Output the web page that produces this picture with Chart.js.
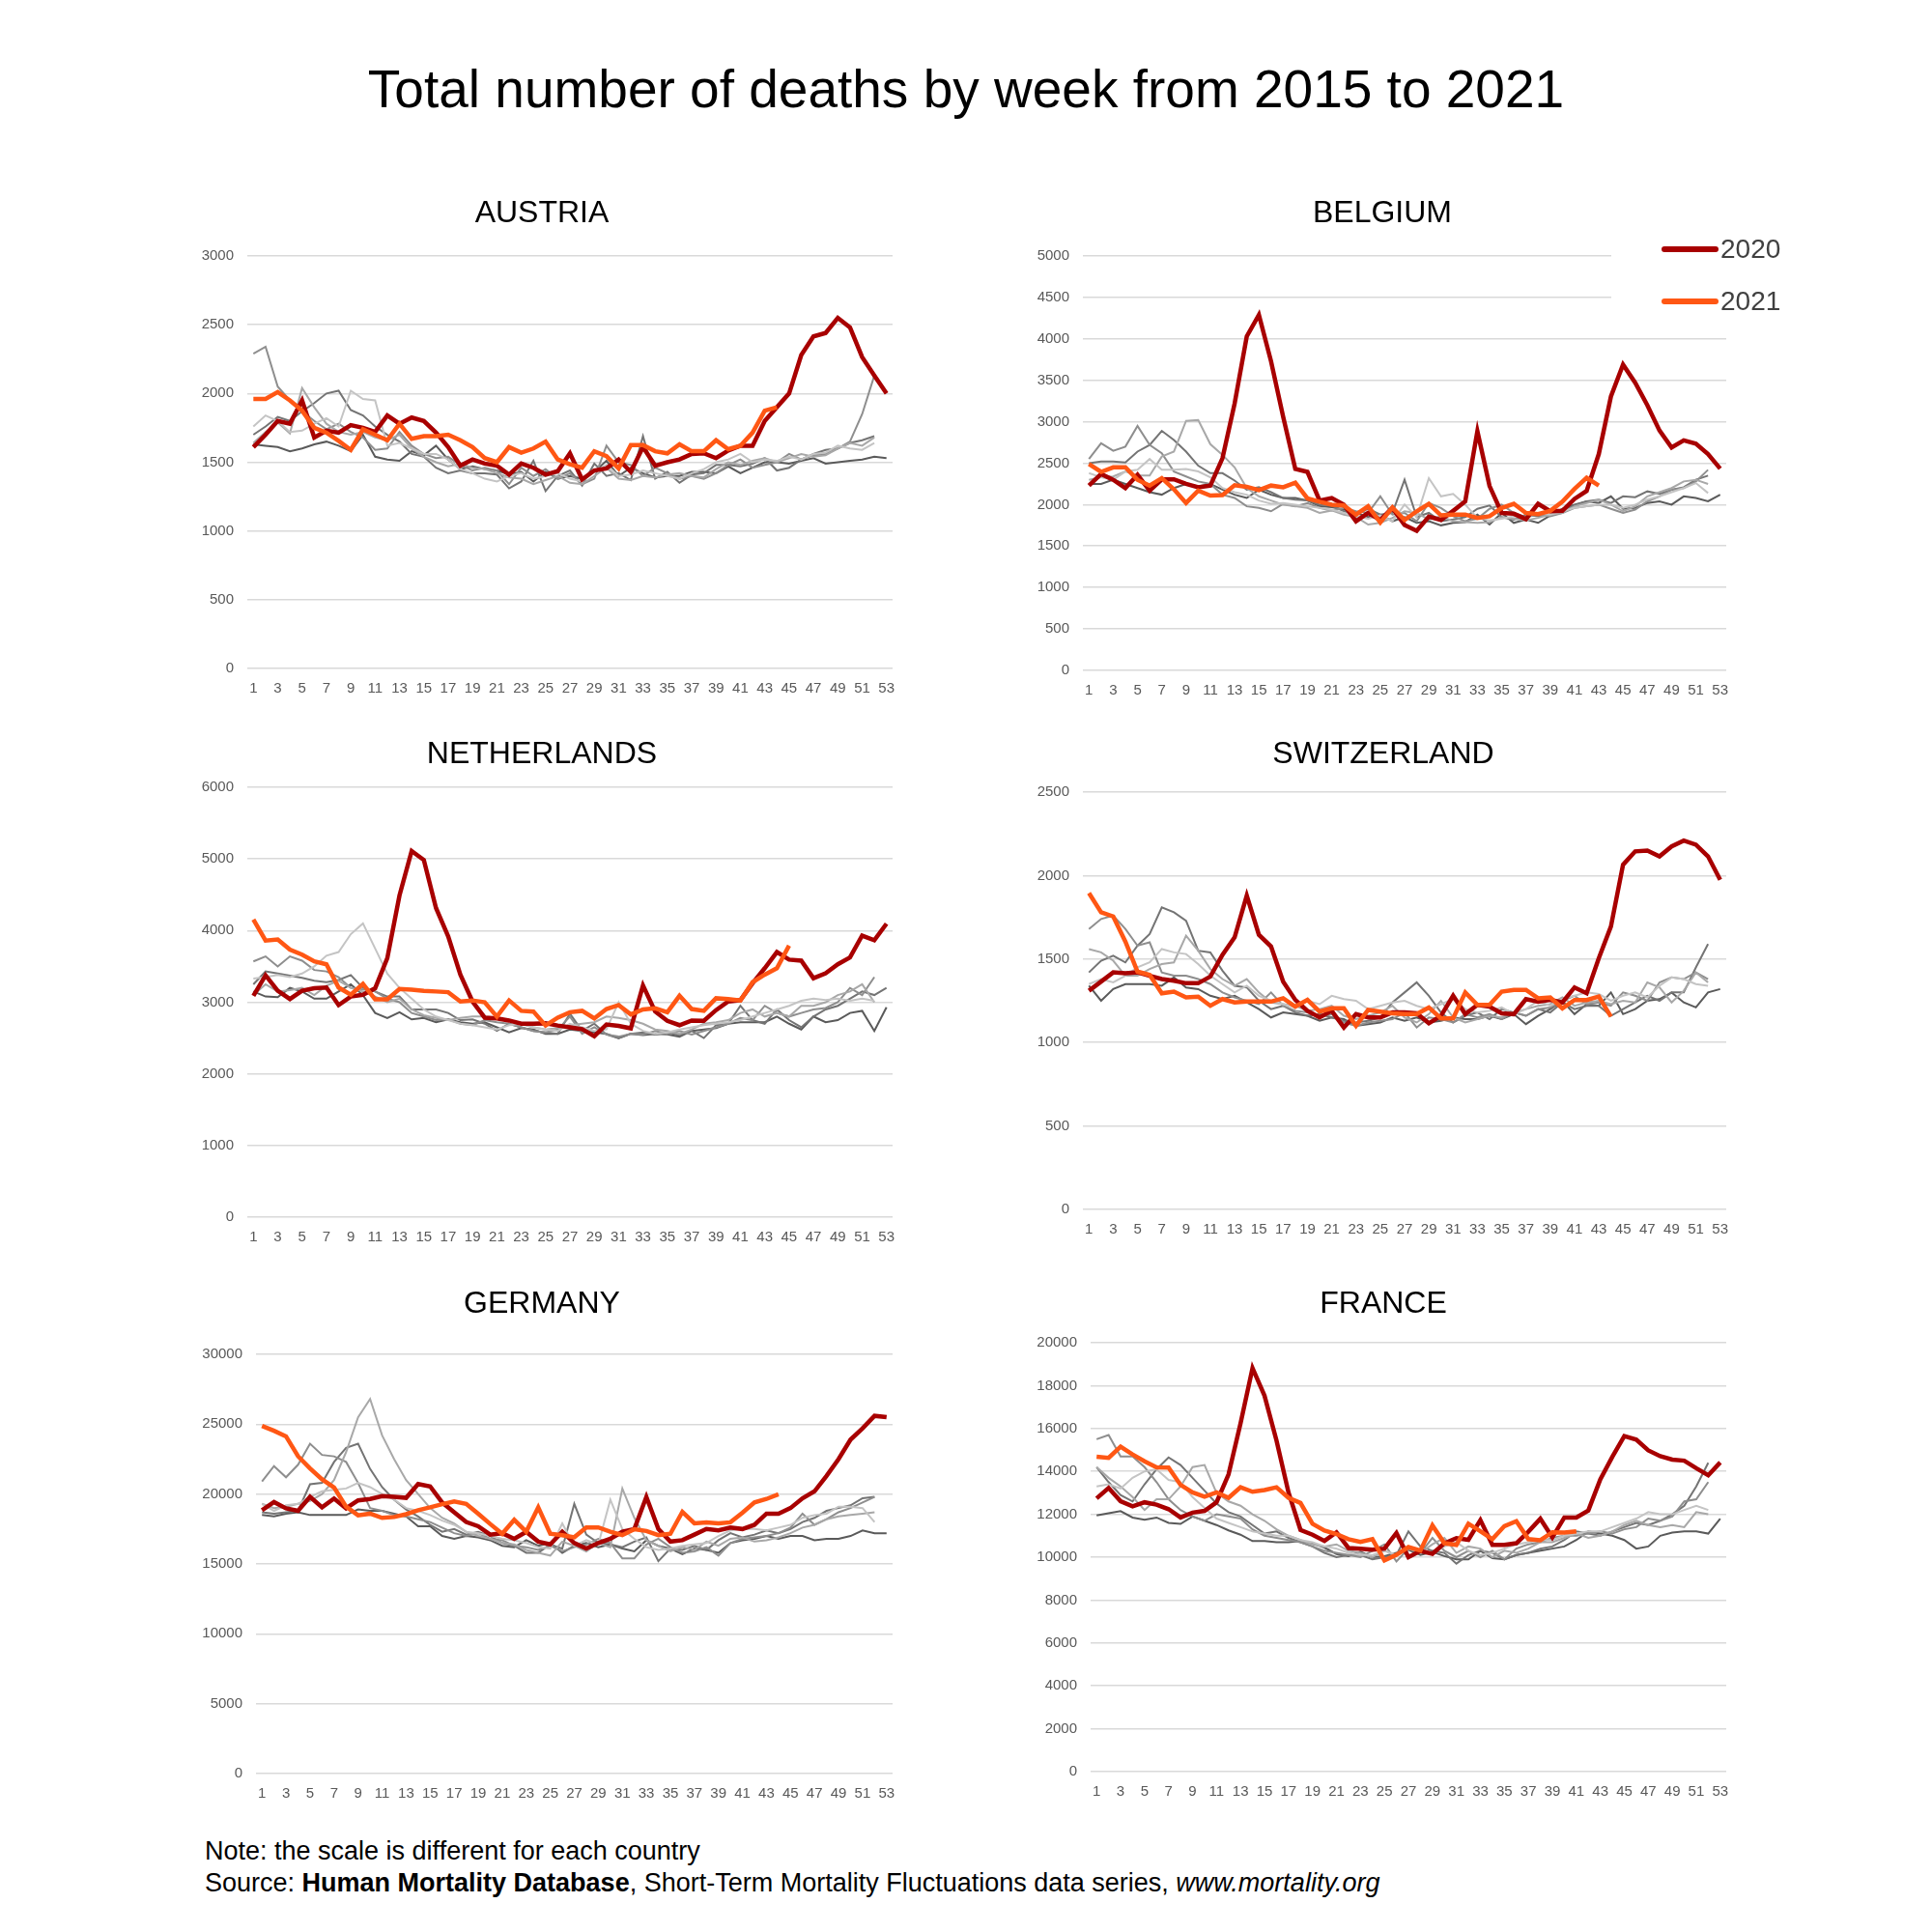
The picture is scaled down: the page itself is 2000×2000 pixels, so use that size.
<!DOCTYPE html>
<html>
<head>
<meta charset="utf-8">
<script src="https://cdn.jsdelivr.net/npm/chart.js@4.4.3/dist/chart.umd.min.js"></script>
<style>
  html,body{margin:0;padding:0;background:#fff;}
  #page{position:relative;width:2000px;height:2000px;font-family:"Liberation Sans",Arial,sans-serif;color:#000;}
  #title{position:absolute;left:0;width:2000px;top:60px;line-height:64px;text-align:center;font-size:55px;}
  #note{position:absolute;left:212px;top:1900px;font-size:27px;line-height:33px;}
  canvas{position:absolute;}
</style>
</head>
<body>
<div id="page">
  <div id="title">Total number of deaths by week from 2015 to 2021</div>
  <div id="note">Note: the scale is different for each country<br>Source: <b>Human Mortality Database</b>, Short-Term Mortality Fluctuations data series, <i>www.mortality.org</i></div>
</div>
<script>
// ---- data: weekly deaths ----
const weeks = ['1','2','3','4','5','6','7','8','9','10','11','12','13','14','15','16','17','18','19','20',
  '21','22','23','24','25','26','27','28','29','30','31','32','33','34','35','36','37','38','39','40',
  '41','42','43','44','45','46','47','48','49','50','51','52','53'];
const years = ['2015','2016','2017','2018','2019','2020','2021'];

// Austria
const at2015 = [1760,1840,1800,1720,1730,1780,1820,1760,2020,1960,1950,1620,1640,1600,1560,1560,1520,1450,1420,1380,1360,1400,1420,1380,1400,1420,1380,1360,1430,1480,1400,1410,1440,1420,1400,1380,1420,1450,1500,1520,1560,1500,1520,1510,1540,1520,1560,1570,1620,1600,1590,1640];
const at2016 = [1640,1720,1790,1710,2040,1900,1780,1720,1700,1720,1680,1660,1700,1600,1540,1500,1470,1490,1460,1450,1420,1390,1380,1340,1370,1400,1350,1340,1400,1460,1380,1370,1400,1390,1410,1420,1400,1390,1450,1500,1480,1510,1530,1500,1530,1560,1540,1550,1600,1640,1620,1680];
const at2017 = [2290,2340,2050,1950,1870,1800,1740,1780,1720,1680,1590,1600,1720,1620,1560,1530,1540,1480,1440,1460,1440,1340,1460,1400,1450,1380,1420,1340,1380,1620,1500,1480,1400,1460,1420,1380,1400,1380,1420,1480,1520,1460,1480,1500,1560,1520,1550,1560,1600,1650,1850,2130];
const at2018 = [1700,1760,1830,1800,1870,1930,2000,2020,1880,1840,1760,1700,1650,1560,1540,1460,1420,1440,1420,1420,1410,1310,1360,1510,1290,1400,1440,1330,1490,1400,1420,1370,1690,1380,1430,1350,1410,1420,1480,1480,1470,1490,1530,1440,1460,1520,1560,1590,1600,1640,1660,1690];
const at2019 = [1630,1620,1610,1580,1600,1630,1650,1620,1580,1700,1540,1520,1510,1580,1550,1620,1520,1450,1470,1450,1440,1410,1430,1360,1430,1380,1400,1380,1430,1510,1400,1460,1420,1390,1400,1400,1430,1430,1420,1470,1420,1460,1500,1500,1490,1510,1530,1490,1500,1510,1520,1540,1530];
const at2020 = [1610,1700,1800,1780,1950,1680,1730,1715,1770,1750,1720,1840,1780,1825,1800,1715,1610,1475,1520,1490,1475,1410,1490,1460,1410,1435,1565,1375,1440,1455,1520,1430,1610,1475,1500,1520,1560,1565,1530,1585,1620,1620,1800,1900,2000,2280,2415,2440,2550,2480,2265,2130,2000];
const at2021 = [1960,1960,2010,1950,1875,1750,1715,1655,1590,1740,1700,1660,1780,1670,1690,1690,1700,1660,1610,1530,1500,1610,1570,1600,1650,1520,1485,1460,1580,1545,1455,1625,1625,1580,1565,1630,1580,1580,1660,1595,1620,1715,1875,1900];

// Belgium
const be2015 = [2380,2330,2300,2400,2420,2550,2420,2420,2430,2400,2330,2200,2150,2120,2050,2010,2020,2000,1980,1960,1940,1900,1860,1830,1870,1800,2000,1850,2320,2100,2130,2000,1840,1810,1830,1860,1850,1900,1880,1920,1960,1980,2000,2000,1960,2000,2060,2100,2150,2200,2260,2140];
const be2016 = [2300,2330,2340,2400,2350,2350,2580,2640,3010,3020,2730,2600,2450,2200,2100,2050,2000,1980,1960,1900,1930,1880,1850,1760,1780,1840,1920,1900,1820,1860,1800,1790,1780,1790,1850,1830,1810,1840,1880,1900,1980,2020,2060,2000,1920,1980,2100,2150,2200,2280,2300,2250];
const be2017 = [2550,2740,2650,2700,2950,2720,2620,2400,2340,2280,2250,2120,2080,1980,1960,1920,2010,1980,2020,1960,1930,1960,1920,1900,2100,1880,1900,1800,2020,1960,1860,1800,1830,1950,2000,1900,1850,1880,1860,1900,1960,1980,2000,1950,1900,1940,2040,2100,2180,2200,2280,2420];
const be2018 = [2500,2520,2520,2510,2640,2720,2890,2780,2640,2470,2380,2380,2290,2180,2210,2150,2080,2060,2050,2000,1990,1920,1880,1950,1880,1900,2300,1850,1900,1800,1820,1850,1950,1990,1850,1820,1880,1860,1880,1920,1990,2040,2060,2020,2100,2090,2160,2130,2180,2210,2300,2350];
const be2019 = [2250,2250,2300,2250,2200,2150,2120,2200,2250,2220,2250,2180,2120,2080,2180,2120,2080,2080,2050,1980,1970,1940,1900,1850,1880,1800,1850,1780,1800,1750,1780,1790,1880,1760,1900,1780,1820,1780,1870,1950,2000,2040,2020,2100,1950,1960,2020,2040,2000,2100,2080,2040,2120];
const be2020 = [2230,2370,2300,2200,2360,2170,2305,2305,2250,2210,2230,2560,3220,4030,4290,3730,3060,2430,2395,2050,2080,2000,1800,1900,1815,1960,1755,1685,1855,1815,1925,2040,2885,2225,1900,1890,1825,2010,1920,1925,2070,2165,2610,3305,3690,3470,3200,2895,2690,2775,2735,2610,2435];
const be2021 = [2490,2395,2450,2450,2300,2230,2320,2185,2020,2170,2110,2115,2235,2215,2175,2230,2210,2265,2075,2035,2000,1990,1880,1980,1785,1965,1815,1920,2010,1870,1880,1880,1840,1860,1960,2010,1900,1885,1925,2035,2190,2325,2230];

// Netherlands
const nl2015 = [3330,3350,3380,3350,3400,3500,3650,3700,3950,4100,3750,3400,3200,3050,2900,2800,2750,2700,2680,2650,2620,2680,2700,2650,2620,2600,2700,2650,2600,2620,3000,2700,2600,2560,2580,2620,2650,2680,2700,2720,2750,2800,2850,2900,2950,3020,3050,3030,3050,3020,3050,3020];
const nl2016 = [3100,3250,3150,3170,3200,3100,3230,3300,3200,3150,3080,3000,3050,2900,2820,2780,2750,2780,2800,2800,2780,2750,2700,2650,2620,2640,2680,2700,2720,2800,2780,2750,2700,2620,2600,2560,2620,2700,2720,2750,2850,2900,2800,2850,2800,2950,2950,3000,3100,3150,3250,3000];
const nl2017 = [3570,3640,3500,3640,3580,3450,3430,3350,3200,3180,3150,3050,3000,2850,2800,2750,2760,2700,2680,2750,2720,2700,2650,2600,2580,2620,2800,2560,2650,2550,2520,2560,2550,2600,2560,2600,2550,2600,2650,2700,2780,2750,2950,2850,2800,2850,2900,2920,3000,3200,3100,3350];
const nl2018 = [3250,3430,3400,3370,3340,3300,3280,3310,3380,3200,3150,3080,3080,2900,2900,2900,2850,2750,2760,2700,2600,2700,2650,2600,2580,2560,2840,2600,2700,2550,2500,2560,2580,2550,2580,2540,2600,2500,2680,2700,2950,2750,2700,2900,2750,2650,2800,2900,2950,3050,3150,3100,3200];
const nl2019 = [3150,3080,3070,3200,3150,3050,3050,3150,3250,3100,2850,2780,2860,2760,2780,2720,2760,2720,2700,2720,2650,2580,2640,2620,2560,2560,2620,2600,2580,2560,2500,2560,2540,2560,2550,2520,2600,2620,2640,2700,2720,2720,2720,2800,2700,2620,2800,2720,2750,2850,2880,2600,2930];
const nl2020 = [3090,3375,3160,3045,3160,3195,3205,2960,3080,3105,3195,3615,4490,5110,4985,4315,3920,3385,3010,2785,2775,2745,2700,2700,2705,2675,2650,2625,2525,2690,2670,2635,3235,2870,2740,2680,2745,2740,2890,3010,3030,3265,3475,3700,3595,3580,3335,3405,3530,3625,3930,3865,4095];
const nl2021 = [4155,3860,3875,3735,3665,3570,3530,3205,3105,3255,3040,3040,3185,3175,3160,3150,3140,3010,3025,3000,2800,3025,2880,2870,2675,2785,2860,2880,2775,2905,2960,2830,2900,2915,2860,3090,2905,2880,3055,3045,3025,3280,3385,3475,3790];

// Switzerland
const ch2015 = [1350,1380,1360,1400,1450,1480,1560,1540,1530,1470,1400,1350,1300,1340,1280,1250,1230,1210,1250,1230,1280,1260,1250,1200,1220,1240,1250,1220,1200,1230,1260,1200,1180,1190,1210,1170,1200,1250,1220,1260,1280,1300,1290,1250,1280,1300,1270,1340,1390,1380,1350,1340];
const ch2016 = [1560,1540,1490,1400,1400,1440,1470,1480,1640,1550,1440,1380,1340,1380,1300,1240,1230,1220,1190,1200,1220,1160,1140,1160,1180,1220,1150,1120,1170,1250,1150,1120,1140,1160,1150,1180,1200,1220,1230,1270,1220,1240,1250,1230,1250,1240,1360,1330,1240,1310,1420,1360];
const ch2017 = [1680,1740,1760,1680,1580,1600,1420,1400,1400,1380,1350,1300,1270,1250,1230,1300,1220,1190,1180,1150,1170,1120,1100,1120,1130,1140,1180,1090,1150,1140,1120,1170,1150,1170,1140,1180,1160,1200,1210,1250,1280,1230,1240,1220,1300,1280,1250,1360,1390,1380,1420,1380];
const ch2018 = [1420,1490,1520,1480,1580,1650,1810,1780,1730,1550,1540,1430,1340,1330,1250,1200,1220,1180,1160,1170,1150,1130,1120,1130,1150,1240,1300,1360,1280,1180,1120,1160,1180,1140,1200,1180,1160,1200,1180,1240,1200,1220,1220,1160,1200,1240,1280,1250,1300,1300,1450,1590];
const ch2019 = [1340,1250,1320,1350,1350,1350,1340,1390,1330,1320,1280,1260,1280,1240,1200,1150,1180,1170,1160,1130,1150,1140,1100,1110,1120,1150,1130,1150,1120,1130,1150,1140,1140,1160,1140,1170,1110,1160,1200,1250,1170,1230,1220,1300,1170,1200,1250,1260,1300,1240,1210,1300,1320];
const ch2020 = [1310,1365,1420,1415,1420,1400,1380,1370,1355,1355,1395,1525,1630,1880,1645,1575,1365,1255,1190,1150,1190,1090,1170,1150,1150,1180,1180,1175,1115,1160,1280,1170,1225,1215,1175,1170,1260,1245,1255,1240,1330,1295,1505,1695,2065,2145,2150,2115,2175,2210,2185,2115,1975];
const ch2021 = [1895,1780,1755,1605,1425,1405,1295,1305,1270,1275,1220,1260,1240,1245,1245,1245,1265,1215,1255,1185,1205,1205,1100,1195,1185,1175,1170,1170,1210,1145,1145,1300,1225,1225,1305,1315,1315,1265,1270,1205,1255,1255,1275,1155];

// Germany
const de2015 = [19300,18800,19200,19300,19800,20200,20300,20400,20800,20500,20000,19600,19000,18800,18500,18100,17800,17300,17200,17000,16800,16700,16500,16200,16100,17900,16300,16700,16400,19600,17500,16800,16200,16000,16100,16300,16400,16500,17000,17400,17500,17500,17400,17600,17800,18300,18500,18600,19100,19100,19000,18000];
const de2016 = [19300,19000,19100,19300,19500,20000,21000,23000,25500,26800,24200,22500,21000,20000,19000,18300,17900,17300,17000,16800,16500,16400,16000,15800,15600,16600,16300,15900,16500,16200,20400,18300,16700,16300,15900,16200,16000,16600,16300,16800,16900,16600,16700,16900,17200,17600,17800,18200,18400,18500,18600,18700];
const de2017 = [20900,22000,21200,22100,23600,22800,22700,22300,20800,19000,18800,18500,18400,18200,18000,17600,17200,17000,17200,16800,16700,16300,16200,16000,16300,15900,16200,16400,16800,16500,15400,15400,16400,16800,16200,15800,15900,16200,15600,16500,16800,16900,17000,17200,17600,18600,17800,18200,18700,19000,19400,19800];
const de2018 = [18700,18600,18700,18800,20700,20800,22300,23300,23600,21800,20500,19600,18900,18400,17800,17300,17500,17100,17300,17000,16500,16300,15800,15800,16400,16100,19300,17100,16500,16400,16200,16600,16900,15200,16100,16000,16300,16000,16700,17200,16900,17100,17400,17200,17500,18000,18300,18800,19000,19200,19700,19800];
const de2019 = [18500,18400,18600,18700,18500,18500,18500,18500,18900,18800,18800,18600,18400,17700,17700,17000,16800,17000,16900,16700,16300,16200,16700,16300,16500,15800,16300,16500,16200,16400,16100,15900,16700,16300,16100,15700,16100,16000,15800,16500,16700,16800,17000,16800,17000,17000,16700,16800,16800,17000,17400,17200,17200];
const de2020 = [18850,19430,18980,18800,19800,19050,19680,18980,19550,19650,19850,19800,19730,20720,20550,19400,18700,18000,17700,17100,17200,16800,17300,16600,16400,17300,16500,16100,16500,16800,17300,17500,19800,17500,16600,16700,17100,17500,17400,17600,17500,17800,18600,18600,19000,19700,20200,21300,22500,23900,24700,25600,25500];
const de2021 = [24880,24530,24130,22710,21840,21050,20470,19100,18480,18600,18300,18360,18560,18850,19050,19280,19480,19300,18600,17860,17160,18160,17310,19050,17160,17060,16910,17610,17610,17310,17060,17490,17360,17060,17160,18730,17910,17980,17910,17980,18660,19400,19650,19980];

// France
const fr2015 = [13300,13400,13200,13700,14000,14100,13600,13500,12800,12300,11800,11600,11400,11200,11100,11000,11000,10800,10700,10500,10400,10200,10100,10100,10300,10100,10500,10300,10200,10500,10700,10300,10100,10200,10400,10600,10700,10800,10800,11000,11100,11200,11200,11400,11600,11800,12100,12000,12000,12200,12400,12200];
const fr2016 = [14200,13700,13300,12800,12200,12700,12700,13300,14200,14300,13000,12600,12400,12000,11700,11300,11000,10800,10600,10500,10600,10300,10200,10000,10300,10100,10400,10200,10600,10900,10200,10500,10400,10000,10300,10200,10400,10700,10700,10900,11100,10900,11000,11200,11500,11700,11500,11400,11500,11400,12100,12000];
const fr2017 = [15500,15700,14700,14700,14200,13500,12700,12200,11900,11700,12000,11900,11800,11300,11000,10900,10800,10700,10500,10300,10200,10100,10000,10300,10600,9800,10400,10200,10900,10300,10000,10300,10000,10300,9900,10400,10600,10700,10900,11000,11000,11100,11200,11100,11300,11400,11800,11700,11900,12600,12700,13500];
const fr2018 = [14200,13500,12900,12600,13400,14100,14650,14300,13700,13100,12500,12100,11900,11500,11100,11200,10900,10700,10500,10200,10000,10100,10100,9900,10000,10100,11200,10500,10300,10200,9700,10100,10300,10200,9900,10100,10200,10400,10500,10800,11200,11100,11000,11200,11400,11600,11500,11700,12000,12400,13300,14400];
const fr2019 = [11950,12050,12150,11850,11750,11850,11600,11550,11900,11700,11500,11250,11050,10750,10750,10700,10700,10750,10650,10450,10150,10050,10250,10000,10050,10200,10350,10100,10250,10050,9900,9900,10300,9950,9900,10100,10200,10300,10400,10500,10800,11200,11100,11000,10800,10400,10500,11000,11150,11200,11200,11100,11800];
const fr2020 = [12740,13230,12610,12370,12560,12450,12240,11850,12080,12160,12560,13860,16240,18820,17530,15440,13020,11270,11050,10760,11160,10430,10390,10350,10400,11130,10000,10290,10160,10650,10890,10810,11730,10570,10570,10650,11190,11790,10920,11850,11850,12180,13630,14680,15650,15480,14980,14710,14550,14500,14150,13820,14420];
const fr2021 = [14680,14630,15150,14790,14470,14190,14180,13370,13020,12820,13020,12770,13260,13050,13130,13260,12770,12530,11560,11240,11080,10840,10710,10840,9850,10110,10470,10310,11480,10650,10570,11560,11210,10840,11450,11680,10840,10790,11160,11150,11210];

// y axis ranges
const yMax  = {at:3000, be:5000, nl:6000, ch:2500, de:30000, fr:20000};
const yStep = {at:500,  be:500,  nl:1000, ch:500,  de:5000,  fr:2000};

// ---- styles / layout ----
const LINE_COLORS = ['#c4c4c4','#a8a8a8','#8e8e8e','#747474','#5a5a5a','#a80000','#ff5714'];
const FONT = '"Liberation Sans", Arial, sans-serif';
Chart.defaults.font.family = FONT;

// where each plot sits on the 2000x2000 page
const panels = [
  {key:'at', name:'AUSTRIA',     series:[at2015,at2016,at2017,at2018,at2019,at2020,at2021], titleX:561,  titleY:221,  left:256,  right:924,  top:265,  bottom:692},
  {key:'be', name:'BELGIUM',     series:[be2015,be2016,be2017,be2018,be2019,be2020,be2021], titleX:1431, titleY:221,  left:1121, right:1787, top:265,  bottom:694, legend:true},
  {key:'nl', name:'NETHERLANDS', series:[nl2015,nl2016,nl2017,nl2018,nl2019,nl2020,nl2021], titleX:561,  titleY:781,  left:256,  right:924,  top:815,  bottom:1260},
  {key:'ch', name:'SWITZERLAND', series:[ch2015,ch2016,ch2017,ch2018,ch2019,ch2020,ch2021], titleX:1432, titleY:781,  left:1121, right:1787, top:820,  bottom:1252},
  {key:'de', name:'GERMANY',     series:[de2015,de2016,de2017,de2018,de2019,de2020,de2021], titleX:561,  titleY:1350, left:265,  right:924,  top:1402, bottom:1836},
  {key:'fr', name:'FRANCE',      series:[fr2015,fr2016,fr2017,fr2018,fr2019,fr2020,fr2021], titleX:1432, titleY:1350, left:1129, right:1787, top:1390, bottom:1834},
];

const TITLE_SIZE = 32, TITLE_LH = 1.2, X_AXIS_H = 42;

// legend drawn inside Belgium's plot, over the gridlines (like the Excel legend box)
const boxLegend = {
  id:'boxLegend',
  afterDraw(chart, args, o){
    if(!o.show) return;
    const ctx = chart.ctx;
    ctx.save();
    ctx.fillStyle = '#fff';
    ctx.fillRect(o.x, o.y, o.w, o.h);
    const items = chart.data.datasets.filter(d=>d.label==='2020' || d.label==='2021');
    items.forEach((d,i)=>{
      const cy = o.y + o.first + i*o.gap;
      ctx.strokeStyle = d.borderColor;
      ctx.lineWidth = 6;
      ctx.lineCap = 'round';
      ctx.beginPath(); ctx.moveTo(o.x + 55, cy); ctx.lineTo(o.x + 108, cy); ctx.stroke();
      ctx.fillStyle = '#404040';
      ctx.font = '28px ' + FONT;
      ctx.textBaseline = 'middle';
      ctx.fillText(d.label, o.x + 113, cy + 1);
    });
    ctx.restore();
  }
};

const page = document.getElementById('page');

panels.forEach(p=>{
  const R = p.legend ? 1862 : p.right + 12;   // canvas right edge
  const L = 2*p.titleX - R;                    // title box spans the whole canvas, so centre it on titleX
  const T = p.titleY - 30;
  const H = p.bottom + X_AXIS_H - T;
  const lh = TITLE_SIZE*TITLE_LH;
  const yW = p.left - L;
  const rW = R - p.right;

  const cv = document.createElement('canvas');
  cv.width = R - L; cv.height = H;
  cv.style.left = L + 'px'; cv.style.top = T + 'px';
  page.appendChild(cv);

  const datasets = p.series.map((vals,i)=>({
    label: years[i],
    data: vals,
    borderColor: LINE_COLORS[i],
    backgroundColor: LINE_COLORS[i],
    borderWidth: i>=5 ? 4.5 : 2,
    pointRadius: 0,
    tension: 0,
    fill: false,
    order: i===6 ? 0 : (i===5 ? 1 : 2)
  }));

  new Chart(cv, {
    type:'line',
    data:{labels: weeks, datasets},
    plugins:[boxLegend],
    options:{
      responsive:false,
      animation:false,
      devicePixelRatio:1,
      layout:{padding:0},
      plugins:{
        legend:{display:false},
        tooltip:{enabled:false},
        title:{
          display:true, text:p.name, color:'#000',
          font:{size:TITLE_SIZE, weight:'normal', lineHeight:TITLE_LH},
          padding:{top:30 - lh/2, bottom:p.top - p.titleY - lh/2}
        },
        boxLegend: p.legend
          ? {show:true, x:1668 - L, y:236 - T, w:200, h:100, first:22, gap:54}
          : {show:false}
      },
      scales:{
        x:{
          offset:true,
          grid:{display:false},
          border:{display:false},
          afterFit(s){ s.height = X_AXIS_H; },
          ticks:{
            autoSkip:false, maxRotation:0, minRotation:0, padding:4,
            color:'#595959', font:{size:15},
            callback(v,i){ return i%2===0 ? this.getLabelForValue(v) : ''; }
          }
        },
        y:{
          min:0, max:yMax[p.key],
          grid:{color:'#d9d9d9', lineWidth:1.6, drawTicks:false},
          border:{display:false},
          afterFit(s){ s.width = yW; },
          ticks:{
            stepSize:yStep[p.key], padding:14,
            color:'#595959', font:{size:15},
            callback:v=>String(v)
          }
        },
        // empty spacer on the right so the plot ends where it does in the picture
        yr:{
          position:'right',
          grid:{display:false},
          border:{display:false},
          ticks:{display:false},
          afterFit(s){ s.width = rW; }
        }
      }
    }
  });
});
</script>
</body>
</html>
